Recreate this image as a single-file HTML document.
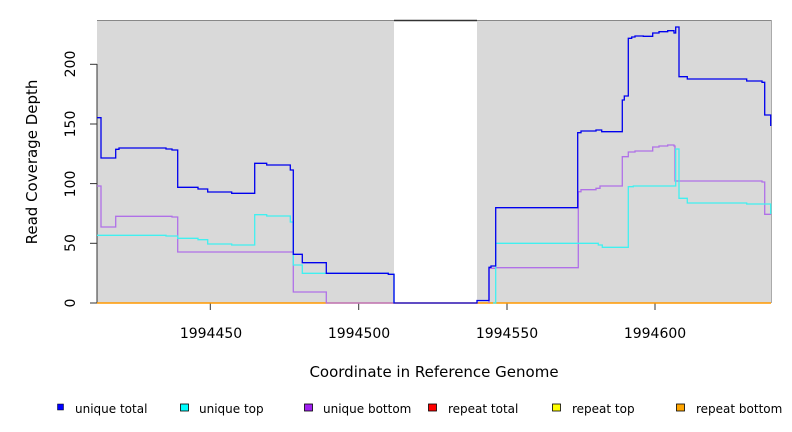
<!DOCTYPE html>
<html><head><meta charset="utf-8"><style>
html,body{margin:0;padding:0;background:#fff;}
svg{display:block;font-family:"DejaVu Sans","Liberation Sans",sans-serif;}
</style></head><body>
<svg width="792" height="432" viewBox="0 0 792 432" xmlns="http://www.w3.org/2000/svg">
<rect x="97" y="20" width="674" height="283" fill="#d9d9d9"/>
<rect x="394" y="20" width="83" height="283" fill="#fff"/>
<line x1="97" y1="20.5" x2="771" y2="20.5" stroke="#888" stroke-width="1"/>
<line x1="394" y1="20.5" x2="477" y2="20.5" stroke="#333" stroke-width="1.5"/>
<line x1="771.5" y1="20" x2="771.5" y2="303" stroke="#aaa"/>
<g stroke="#333" stroke-width="1">
<line x1="97" y1="64" x2="97" y2="303"/>
<line x1="90" y1="303" x2="97" y2="303"/><line x1="90" y1="243.3" x2="97" y2="243.3"/>
<line x1="90" y1="183.6" x2="97" y2="183.6"/><line x1="90" y1="124" x2="97" y2="124"/>
<line x1="90" y1="64.3" x2="97" y2="64.3"/>
<line x1="210.3" y1="303" x2="210.3" y2="310"/><line x1="358.7" y1="303" x2="358.7" y2="310"/>
<line x1="507" y1="303" x2="507" y2="310"/><line x1="655" y1="303" x2="655" y2="310"/>
</g>
<g font-size="14" fill="#000" text-anchor="middle">
<text transform="translate(75,303) rotate(-90)">0</text>
<text transform="translate(75,243) rotate(-90)">50</text>
<text transform="translate(75,184) rotate(-90)">100</text>
<text transform="translate(75,124) rotate(-90)">150</text>
<text transform="translate(75,64) rotate(-90)">200</text>
<text x="211" y="338">1994450</text><text x="359" y="338">1994500</text>
<text x="507" y="338">1994550</text><text x="655" y="338">1994600</text>
<text x="434" y="377" font-size="15">Coordinate in Reference Genome</text>
<text transform="translate(37,162) rotate(-90)" font-size="15">Read Coverage Depth</text>
</g>
<line x1="97" y1="303" x2="771" y2="303" stroke="#ff9900" stroke-width="1.5"/>
<g fill="none" stroke-width="1.3">
<polyline stroke="#b070e8" points="97,186 101,186 101,227 115.7,227 115.7,216.3 172,216.3 172,217 177.7,217 177.7,252 293.3,252 293.3,292 326.3,292 326.3,303 394,303 M489,303"/>
<polyline stroke="#b070e8" points="489,303 489,268.3 495.7,268.3 495.7,267.7 578.3,267.7 578.3,191.7 581,191.7 581,189.7 596,189.7 596,188.3 600,188.3 600,186 622.3,186 622.3,156.7 628.3,156.7 628.3,152 635,152 635,151 652.7,151 652.7,147 659,147 659,146 667.7,146 667.7,145 674,145 674,146 675,146 675,181 762,181 762,182 764.7,182 764.7,214.3 771,214.3"/>
<polyline stroke="#40f0f0" points="97,235.3 166,235.3 166,236 177.7,236 177.7,238.3 198,238.3 198,239.7 207.7,239.7 207.7,244 231.7,244 231.7,245 254.7,245 254.7,214.7 266.7,214.7 266.7,216 290.3,216 290.3,222 293.3,222 293.3,265 302.3,265 302.3,273.3 388.3,273.3 388.3,274.3 394,274.3 394,303"/>
<polyline stroke="#40f0f0" points="493,303 495.7,303 495.7,243.3 598.3,243.3 598.3,245 602.3,245 602.3,247.3 628.3,247.3 628.3,186.7 633.3,186.7 633.3,186 675.7,186 675.7,149 679,149 679,198.3 687.3,198.3 687.3,203 746.7,203 746.7,204 770.7,204 770.7,214"/>
<polyline stroke="#0000ee" points="97,117.7 101,117.7 101,158 115.7,158 115.7,149.3 119,149.3 119,148 166,148 166,149 172,149 172,150 177.7,150 177.7,187.3 198,187.3 198,189 207.7,189 207.7,192 231.7,192 231.7,193.3 254.7,193.3 254.7,163.3 266.7,163.3 266.7,165 290.3,165 290.3,170 293.3,170 293.3,254.3 302.3,254.3 302.3,262.7 326.3,262.7 326.3,273.3 388.3,273.3 388.3,274.3 394,274.3 394,303 477,303 477,300.5 489,300.5 489,267.3 491,267.3 491,266 495.7,266 495.7,207.7 577.7,207.7 577.7,132.7 581,132.7 581,131 596,131 596,130 601.7,130 601.7,131.7 622.3,131.7 622.3,100 624.3,100 624.3,96 628.3,96 628.3,38.3 631.7,38.3 631.7,37 635,37 635,36 643.3,36 643.3,36.3 652.7,36.3 652.7,33 659,33 659,31.7 667.7,31.7 667.7,30.7 674,30.7 674,33 675.7,33 675.7,27 679,27 679,76.7 687.3,76.7 687.3,79 746.7,79 746.7,81 762,81 762,82.3 764.7,82.3 764.7,115 770.7,115 770.7,126"/>
</g>
<g font-size="12" fill="#000">
<rect x="57.5" y="404" width="6" height="6" fill="#0000ff" stroke="#000" stroke-width="0.5"/><text x="75" y="413">unique total</text>
<rect x="180.5" y="404" width="8" height="7" fill="#00ffff" stroke="#000" stroke-width="0.8"/><text x="199" y="413">unique top</text>
<rect x="304.5" y="404" width="8" height="7" fill="#a020f0" stroke="#000" stroke-width="0.8"/><text x="323" y="413">unique bottom</text>
<rect x="428.5" y="404" width="8" height="7" fill="#ff0000" stroke="#000" stroke-width="0.8"/><text x="448" y="413">repeat total</text>
<rect x="552.5" y="404" width="8" height="7" fill="#ffff00" stroke="#000" stroke-width="0.8"/><text x="572" y="413">repeat top</text>
<rect x="676.5" y="404" width="8" height="7" fill="#ffa500" stroke="#000" stroke-width="0.8"/><text x="696" y="413">repeat bottom</text>
</g>
</svg>
</body></html>
